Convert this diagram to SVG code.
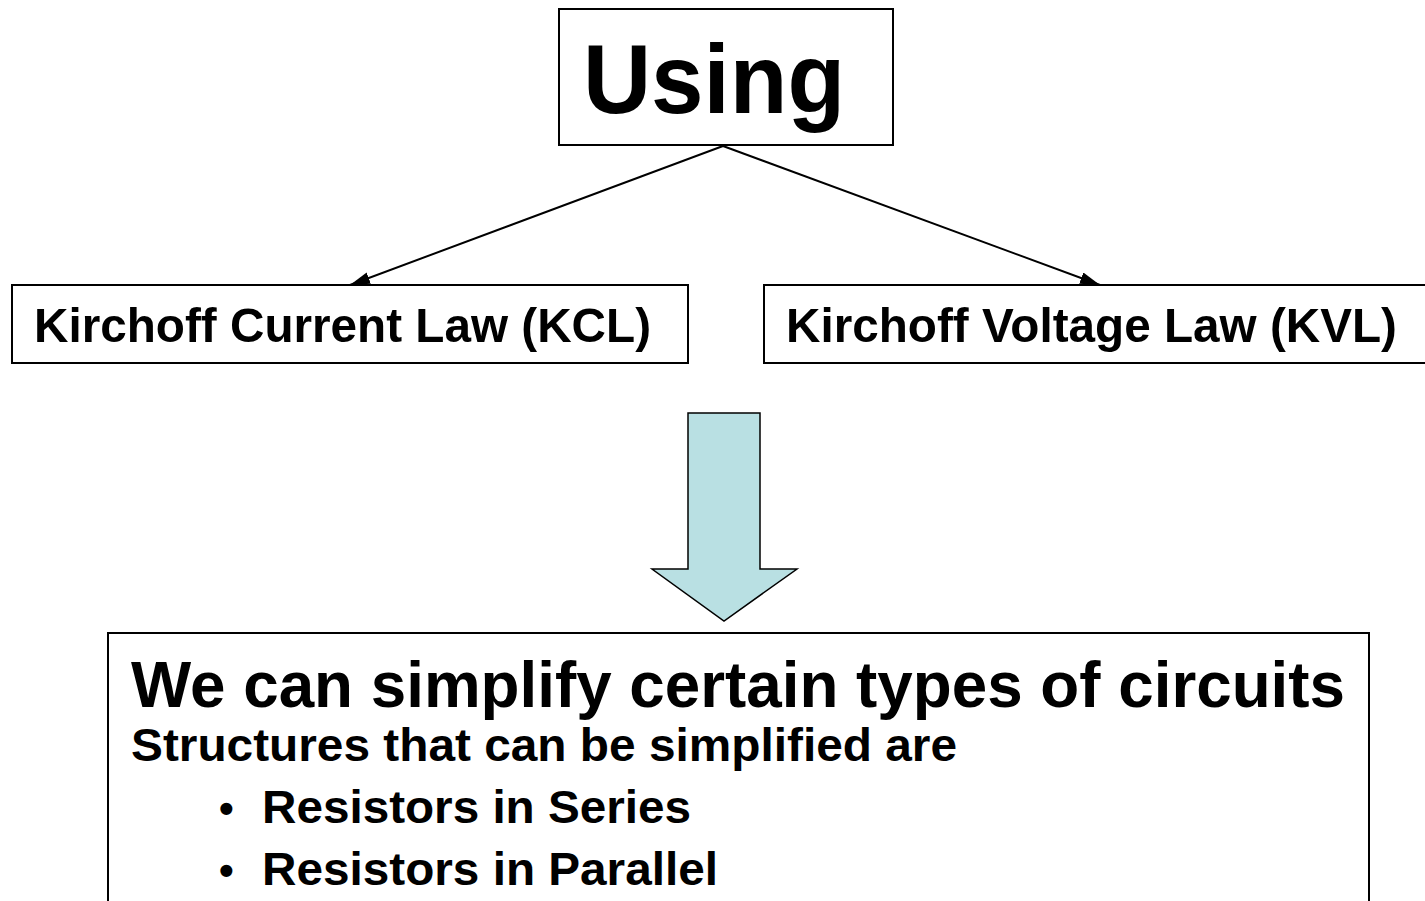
<svg xmlns="http://www.w3.org/2000/svg" width="1425" height="901" viewBox="0 0 1425 901">
<style>
.box{fill:#ffffff;stroke:#000000;stroke-width:2}
.t{font-family:"Liberation Sans",Arial,sans-serif;font-weight:bold;fill:#000000}
.conn{stroke:#000000;stroke-width:2;fill:none}
</style>
<defs>
<marker id="ah" viewBox="0 0 20 12" refX="20" refY="6" markerWidth="20" markerHeight="12" markerUnits="userSpaceOnUse" orient="auto">
<path d="M0,0 L20,6 L0,12 Z" fill="#000000"/>
</marker>
</defs>
<rect width="1425" height="901" fill="#ffffff"/>
<g id="using">
<rect class="box" x="559" y="9" width="334" height="136"/>
<text class="t" x="583" y="113" font-size="98" textLength="262" lengthAdjust="spacingAndGlyphs">Using</text>
</g>
<g id="kcl">
<rect class="box" x="12" y="285" width="676" height="78"/>
<text class="t" x="34" y="342" font-size="49" textLength="617" lengthAdjust="spacingAndGlyphs">Kirchoff Current Law (KCL)</text>
</g>
<g id="kvl">
<rect class="box" x="764" y="285" width="700" height="78"/>
<text class="t" x="786" y="342" font-size="49" textLength="611" lengthAdjust="spacingAndGlyphs">Kirchoff Voltage Law (KVL)</text>
</g>
<g id="connectors">
<line class="conn" x1="723" y1="146" x2="350" y2="285" marker-end="url(#ah)"/>
<line class="conn" x1="723" y1="146" x2="1100" y2="285" marker-end="url(#ah)"/>
</g>
<g id="bigarrow">
<path d="M688,413 L760,413 L760,569 L797,569 L724,621 L652,569 L688,569 Z" fill="#b9e0e3" stroke="#000000" stroke-width="1.5" stroke-linejoin="miter"/>
</g>
<g id="result">
<rect class="box" x="108" y="633" width="1261" height="320"/>
<text class="t" x="131" y="707" font-size="64" textLength="1214" lengthAdjust="spacingAndGlyphs">We can simplify certain types of circuits</text>
<text class="t" x="131" y="761" font-size="46" textLength="826" lengthAdjust="spacingAndGlyphs">Structures that can be simplified are</text>
<text class="t" x="219" y="823" font-size="42">•</text>
<text class="t" x="262" y="823" font-size="46" textLength="429" lengthAdjust="spacingAndGlyphs">Resistors in Series</text>
<text class="t" x="219" y="885" font-size="42">•</text>
<text class="t" x="262" y="885" font-size="46" textLength="456" lengthAdjust="spacingAndGlyphs">Resistors in Parallel</text>
</g>
</svg>
